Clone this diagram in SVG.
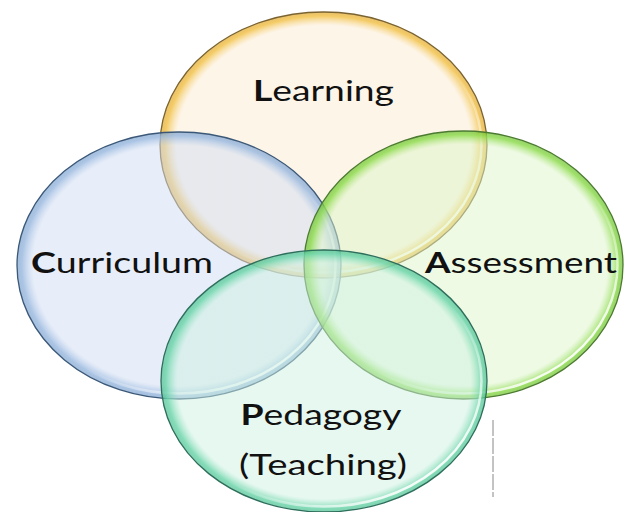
<svg xmlns="http://www.w3.org/2000/svg" width="624" height="512" viewBox="0 0 624 512">
<style>
.lbl{font-family:Lato,"Open Sans","Liberation Sans",sans-serif;font-size:29px;fill:#111;text-anchor:middle}
.b{font-weight:bold}
.hl{fill:none;stroke:url(#hlg);stroke-width:2.5}
</style>
<defs>
<radialGradient id="gL" cx="0.5" cy="0.5" r="0.5">
<stop offset="0" stop-color="#fbebd1" stop-opacity="0.5"/>
<stop offset="0.9" stop-color="#fbebd1" stop-opacity="0.5"/>
<stop offset="0.97" stop-color="#f2c24a" stop-opacity="0.85"/>
<stop offset="1" stop-color="#e0a830" stop-opacity="0.7"/>
</radialGradient>
<radialGradient id="gC" cx="0.5" cy="0.5" r="0.5">
<stop offset="0" stop-color="#d1ddf3" stop-opacity="0.5"/>
<stop offset="0.9" stop-color="#d1ddf3" stop-opacity="0.5"/>
<stop offset="0.97" stop-color="#9dbbe0" stop-opacity="0.85"/>
<stop offset="1" stop-color="#7fa3cf" stop-opacity="0.7"/>
</radialGradient>
<radialGradient id="gA" cx="0.5" cy="0.5" r="0.5">
<stop offset="0" stop-color="#ddf5c9" stop-opacity="0.5"/>
<stop offset="0.9" stop-color="#ddf5c9" stop-opacity="0.5"/>
<stop offset="0.97" stop-color="#8fdc50" stop-opacity="0.85"/>
<stop offset="1" stop-color="#6cc030" stop-opacity="0.7"/>
</radialGradient>
<radialGradient id="gP" cx="0.5" cy="0.5" r="0.5">
<stop offset="0" stop-color="#cdf1e1" stop-opacity="0.5"/>
<stop offset="0.9" stop-color="#cdf1e1" stop-opacity="0.5"/>
<stop offset="0.97" stop-color="#6fd6ac" stop-opacity="0.85"/>
<stop offset="1" stop-color="#4cbf90" stop-opacity="0.7"/>
</radialGradient>
<linearGradient id="hlg" x1="0" y1="0" x2="1" y2="1">
<stop offset="0" stop-color="#fff" stop-opacity="0"/>
<stop offset="0.55" stop-color="#fff" stop-opacity="0"/>
<stop offset="0.85" stop-color="#fff" stop-opacity="0.9"/>
<stop offset="1" stop-color="#fff" stop-opacity="0.9"/>
</linearGradient>
</defs>
<rect width="624" height="512" fill="#fff"/>
<g id="learning">
<ellipse cx="323.5" cy="145" rx="163.5" ry="133" fill="url(#gL)" stroke="#7a6330" stroke-width="1.3"/>
<ellipse class="hl" cx="323.5" cy="145" rx="158" ry="127.5"/>
</g>
<g id="curriculum">
<ellipse cx="179" cy="265.5" rx="162" ry="133.5" fill="url(#gC)" stroke="#3b5878" stroke-width="1.3"/>
<ellipse class="hl" cx="179" cy="265.5" rx="156.5" ry="128"/>
</g>
<g id="assessment">
<ellipse cx="463.5" cy="265" rx="159.5" ry="134" fill="url(#gA)" stroke="#4c7a30" stroke-width="1.3"/>
<ellipse class="hl" cx="463.5" cy="265" rx="154" ry="128.5"/>
</g>
<g id="pedagogy">
<ellipse cx="324" cy="381" rx="163" ry="131" fill="url(#gP)" stroke="#2e6e5c" stroke-width="1.3"/>
<ellipse class="hl" cx="324" cy="381" rx="157.5" ry="125.5"/>
</g>
<g id="labels">
<text class="lbl" x="323.5" y="101" textLength="141" lengthAdjust="spacingAndGlyphs"><tspan class="b">L</tspan>earning</text>
<text class="lbl" x="122" y="273" textLength="182" lengthAdjust="spacingAndGlyphs"><tspan class="b">C</tspan>urriculum</text>
<text class="lbl" x="521" y="273" textLength="192" lengthAdjust="spacingAndGlyphs"><tspan class="b">A</tspan>ssessment</text>
<text class="lbl" x="321" y="425" textLength="161" lengthAdjust="spacingAndGlyphs"><tspan class="b">P</tspan>edagogy</text>
<text class="lbl" x="323" y="475" textLength="168" lengthAdjust="spacingAndGlyphs">(Teaching)</text>
</g>
<g id="connectors"></g>
<line x1="493" y1="420" x2="493" y2="497" stroke="#888" stroke-width="1" stroke-dasharray="16 2"/>
</svg>
